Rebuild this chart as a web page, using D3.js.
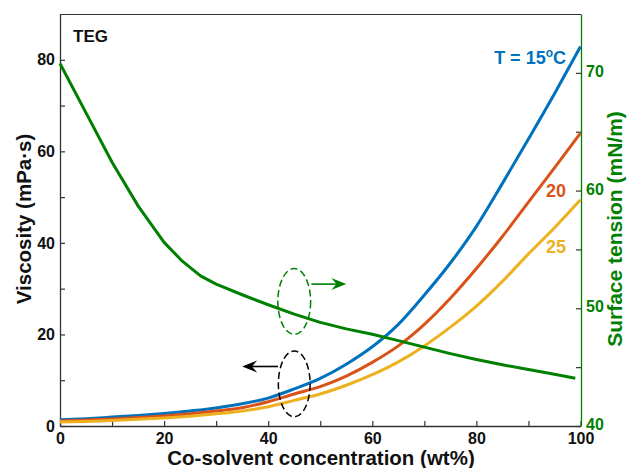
<!DOCTYPE html>
<html>
<head>
<meta charset="utf-8">
<script src="https://cdn.jsdelivr.net/npm/d3@7"></script>
<style>
  html, body { margin: 0; padding: 0; background: #fff; }
  svg { display: block; font-family: "Liberation Sans", Arial, Helvetica, sans-serif; font-weight: bold; }
</style>
</head>
<body>
<svg id="chart" width="627" height="468"></svg>
<script>
// Co-solvent concentration (wt%) for the viscosity curves
const conc = [0, 5, 10, 15, 20, 25, 30, 35, 40, 45, 50, 55, 60, 65, 70, 75, 80, 85, 90, 95, 100];
// Viscosity (mPa·s) at three temperatures
const visc15 = [1.35, 1.6, 1.95, 2.3, 2.75, 3.3, 3.95, 4.85, 6.1, 8.1, 10.4, 13.5, 17.3, 22.2, 28.6, 35.6, 43.6, 53.0, 62.7, 72.6, 82.9];
const visc20 = [1.1, 1.3, 1.55, 1.85, 2.2, 2.7, 3.3, 4.0, 5.3, 7.0, 8.6, 10.9, 13.9, 17.5, 22.2, 27.9, 34.4, 41.4, 48.9, 56.4, 64.0];
const visc25 = [0.85, 1.0, 1.2, 1.45, 1.75, 2.15, 2.65, 3.25, 4.2, 5.6, 7.0, 8.9, 11.2, 14.0, 17.5, 21.6, 26.2, 31.6, 37.6, 43.3, 49.4];
// Surface tension (mN/m)
const stConc = [0, 5, 10, 15, 20, 23.5, 27, 30, 35, 40, 45, 50, 55, 60, 65, 70, 75, 80, 85, 90, 95, 99];
const surfTension = [70.8, 66.6, 62.4, 58.7, 55.6, 54.0, 52.75, 52.05, 51.15, 50.3, 49.5, 48.8, 48.25, 47.8, 47.25, 46.7, 46.15, 45.65, 45.2, 44.8, 44.4, 44.05];

// Tick values
const xTicks = [0, 20, 40, 60, 80, 100];
const xMinor = [10, 30, 50, 70, 90];
const yLeftTicks = [0, 20, 40, 60, 80];
const yLeftMinor = [10, 30, 50, 70];
const yRightTicks = [40, 50, 60, 70];
const yRightMinor = [45, 55, 65];

const seriesNames = ["T = 15", "20", "25"];
const colors = { blue: "#0072BD", orange: "#D95319", yellow: "#EDB120", green: "#008000", axis: "#333333" };

const svg = d3.select("#chart");
const plotLeft = 60, plotRight = 581, plotTop = 14, plotBottom = 426;

const x = d3.scaleLinear().domain([0, 100]).range([plotLeft, plotRight - 0.5]);
const yL = d3.scaleLinear().domain([0, 90]).range([plotBottom, plotTop]);
const yR = d3.scaleLinear().domain([40, 75]).range([plotBottom, plotTop]);

// frame top edge
svg.append("line").attr("x1", plotLeft).attr("x2", plotRight).attr("y1", plotTop + 0.5).attr("y2", plotTop + 0.5)
  .attr("stroke", colors.axis).attr("stroke-width", 1.2);

function styleAxis(g, labelColor, lineColor) {
  g.select(".domain").attr("stroke", lineColor).attr("stroke-width", 1.3);
  g.selectAll(".tick line").attr("stroke", colors.axis).attr("stroke-width", 1.2);
  g.selectAll(".tick text").attr("fill", labelColor).attr("font-size", 16).attr("font-weight", "bold")
    .attr("font-family", "'Liberation Sans', Arial, sans-serif");
}

function minorTicks(g) {
  g.select(".domain").remove();
  g.selectAll(".tick line").attr("stroke", colors.axis).attr("stroke-width", 1.2);
}

// bottom axis
const gx = svg.append("g").attr("transform", `translate(0,${plotBottom})`)
  .call(d3.axisBottom(x).tickValues(xTicks).tickSizeInner(-5).tickSizeOuter(0).tickPadding(7));
styleAxis(gx, "#111", colors.axis);
svg.append("g").attr("transform", `translate(0,${plotBottom})`)
  .call(d3.axisBottom(x).tickValues(xMinor).tickSizeInner(-5).tickSizeOuter(0).tickFormat(() => ""))
  .call(minorTicks);

// left axis
const gy = svg.append("g").attr("transform", `translate(${plotLeft},0)`)
  .call(d3.axisLeft(yL).tickValues(yLeftTicks).tickSizeInner(-5).tickSizeOuter(0).tickPadding(5));
styleAxis(gy, "#111", colors.axis);
svg.append("g").attr("transform", `translate(${plotLeft},0)`)
  .call(d3.axisLeft(yL).tickValues(yLeftMinor).tickSizeInner(-5).tickSizeOuter(0).tickFormat(() => ""))
  .call(minorTicks);

// right axis (surface tension)
const gr = svg.append("g").attr("transform", `translate(${plotRight},0)`)
  .call(d3.axisRight(yR).tickValues(yRightTicks).tickSizeInner(-5).tickSizeOuter(0).tickPadding(5));
styleAxis(gr, colors.green, colors.green);
gr.selectAll(".tick text").attr("dy", "0.22em");
svg.append("g").attr("transform", `translate(${plotRight},0)`)
  .call(d3.axisRight(yR).tickValues(yRightMinor).tickSizeInner(-5).tickSizeOuter(0).tickFormat(() => ""))
  .call(minorTicks);

// curves
const viscLine = d3.line().x((d, i) => x(conc[i])).y(d => yL(d)).curve(d3.curveMonotoneX);
[[visc15, colors.blue], [visc20, colors.orange], [visc25, colors.yellow]].forEach(([vals, c]) => {
  svg.append("path").datum(vals).attr("d", viscLine)
    .attr("fill", "none").attr("stroke", c).attr("stroke-width", 3).attr("stroke-linejoin", "round");
});
const stLine = d3.line().x((d, i) => x(stConc[i])).y(d => yR(d));
svg.append("path").datum(surfTension).attr("d", stLine)
  .attr("fill", "none").attr("stroke", colors.green).attr("stroke-width", 3).attr("stroke-linejoin", "round");

// axis-pointer annotations: dashed ellipses with arrows (data coordinates)
const pointers = [
  { cx: 45, cy: 27.2, rx: 3.15, ry: 7.2, from: 48.3, to: 55.0, ay: 31.0, color: colors.green },
  { cx: 45, cy: 9.2, rx: 3.05, ry: 7.2, from: 41.9, to: 35.0, ay: 13.0, color: "#000" }
];
pointers.forEach(p => {
  svg.append("ellipse")
    .attr("cx", x(p.cx)).attr("cy", yL(p.cy))
    .attr("rx", x(p.cx + p.rx) - x(p.cx)).attr("ry", yL(0) - yL(p.ry))
    .attr("fill", "none").attr("stroke", p.color).attr("stroke-width", 1.5).attr("stroke-dasharray", "7,3.5");
  const x0 = x(p.from), x1 = x(p.to), yy = yL(p.ay);
  const dir = Math.sign(x1 - x0), L = 15, W = 6;
  svg.append("line").attr("x1", x0).attr("x2", x1 - dir * L * 0.6).attr("y1", yy).attr("y2", yy)
    .attr("stroke", p.color).attr("stroke-width", 1.6);
  svg.append("path")
    .attr("d", `M${x1},${yy} L${x1 - dir * L},${yy - W} L${x1 - dir * L * 0.65},${yy} L${x1 - dir * L},${yy + W} Z`)
    .attr("fill", p.color);
});

// text labels
svg.append("text").attr("x", 73).attr("y", 42).attr("font-size", 17).attr("fill", "#111").text("TEG");

const tLabel = svg.append("text").attr("x", 566).attr("y", 64).attr("text-anchor", "end")
  .attr("font-size", 18).attr("fill", colors.blue);
tLabel.append("tspan").text(seriesNames[0]);
tLabel.append("tspan").attr("dy", -7).attr("font-size", 12).text("o");
tLabel.append("tspan").attr("dy", 7).text("C");

svg.append("text").attr("x", 566).attr("y", 197).attr("text-anchor", "end")
  .attr("font-size", 18).attr("fill", colors.orange).text(seriesNames[1]);
svg.append("text").attr("x", 566).attr("y", 253).attr("text-anchor", "end")
  .attr("font-size", 18).attr("fill", colors.yellow).text(seriesNames[2]);

// axis titles
svg.append("text").attr("x", 321).attr("y", 465).attr("text-anchor", "middle")
  .attr("font-size", 20.5).attr("fill", "#111").text("Co-solvent concentration (wt%)");
svg.append("text").attr("transform", "translate(31,219) rotate(-90)").attr("text-anchor", "middle")
  .attr("font-size", 20.5).attr("fill", "#111").text("Viscosity (mPa·s)");
svg.append("text").attr("transform", "translate(622,229) rotate(-90)").attr("text-anchor", "middle")
  .attr("font-size", 21).attr("fill", colors.green).text("Surface tension (mN/m)");
</script>
</body>
</html>
